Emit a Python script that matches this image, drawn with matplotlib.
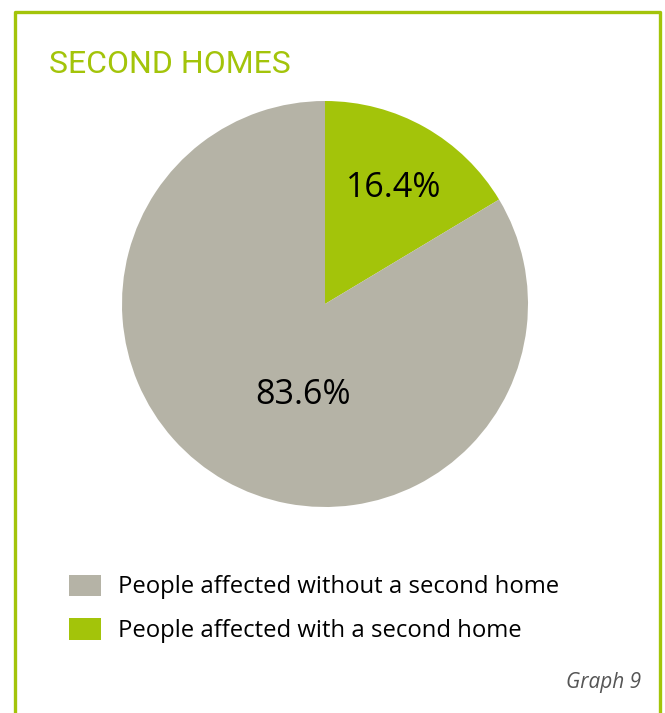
import matplotlib.pyplot as plt
from matplotlib.lines import Line2D

GREEN = "#A3C40A"
GREY = "#B5B3A6"

# pie slices, in drawing order (clockwise from 12 o'clock)
categories = ["People affected with a second home", "People affected without a second home"]
shares = [16.4, 83.6]
colors = [GREEN, GREY]
legend_order = [1, 0]

W, H = 665, 713
fig = plt.figure(figsize=(W / 100, H / 100), dpi=100)
fig.patch.set_facecolor("white")

# green frame: left, top, right edges
frame_x = [15 / W, 15 / W, 660 / W, 660 / W]
frame_y = [0, 1 - 12 / H, 1 - 12 / H, 0]
fig.add_artist(Line2D(frame_x, frame_y, color=GREEN, lw=2.4, transform=fig.transFigure))

fig.text(49 / W, 1 - 73 / H, "SECOND HOMES", color=GREEN, fontsize=23,
         family="Roboto", va="baseline", ha="left")

cx, cy, r = 325, 304, 203
ax = fig.add_axes([(cx - r) / W, 1 - (cy + r) / H, 2 * r / W, 2 * r / H])
wedges, texts = ax.pie(shares, colors=colors, startangle=90, counterclock=False,
                       radius=1, wedgeprops={"linewidth": 0})
ax.set_xlim(-1, 1)
ax.set_ylim(-1, 1)
ax.set_aspect("equal")
ax.axis("off")

label_pos = [(0.34, 0.57), (-0.11, -0.45)]
for share, (x, y) in zip(shares, label_pos):
    ax.text(x, y, f"{share}%", ha="center", va="center", fontsize=24.5,
            family="Open Sans", color="black")

leg = fig.legend([wedges[i] for i in legend_order],
                 [categories[i] for i in legend_order],
                 loc="upper left", bbox_to_anchor=(47 / W, 1 - 553 / H),
                 frameon=False, handlelength=1.38, handleheight=1.0,
                 handletextpad=0.7, labelspacing=0.8,
                 prop={"family": "Open Sans", "size": 17.2})

fig.text(641 / W, 1 - 688 / H, "Graph 9", ha="right", va="baseline",
         fontsize=15, style="italic", color="#555555", family="Open Sans")

fig.savefig("out.png", dpi=100)
